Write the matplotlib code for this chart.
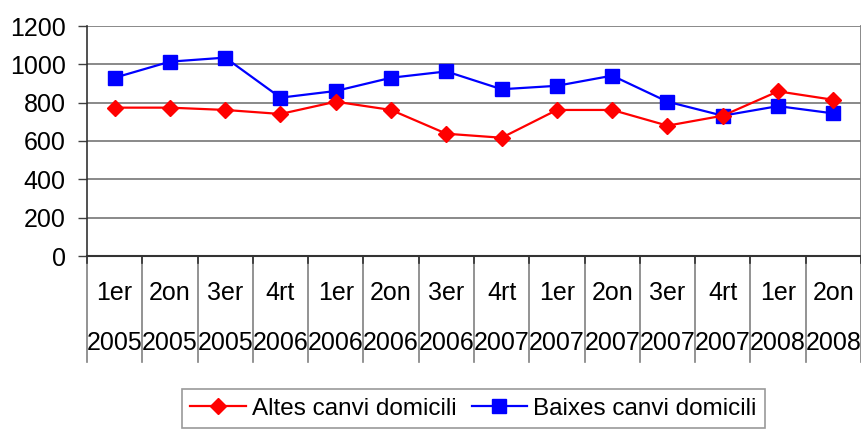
import matplotlib
matplotlib.use("Agg")
import matplotlib.pyplot as plt
import matplotlib.transforms as mtransforms
from matplotlib.lines import Line2D

quarters = ["1er", "2on", "3er", "4rt", "1er", "2on", "3er", "4rt", "1er", "2on", "3er", "4rt", "1er", "2on"]
years = ["2005", "2005", "2005", "2006", "2006", "2006", "2006", "2007", "2007", "2007", "2007", "2007", "2008", "2008"]
altes = [774, 774, 762, 741, 805, 762, 638, 617, 762, 762, 680, 732, 859, 815]
baixes = [930, 1014, 1035, 826, 861, 930, 963, 870, 888, 941, 805, 732, 782, 744]
yticks = [0, 200, 400, 600, 800, 1000, 1200]

plt.rcParams['font.family'] = ['Liberation Sans', 'DejaVu Sans']
FS = 18

fig = plt.figure(figsize=(8.62, 4.29), dpi=100)
W, H = 862, 429
ax = fig.add_axes([87 / W, 1 - 256 / H, (861 - 87) / W, (256 - 26) / H])

x = list(range(len(quarters)))
ax.plot(x, altes, color='#FF0000', lw=1.6, marker='D', ms=7.8, mec='#FF0000', mfc='#FF0000',
        label='Altes canvi domicili', zorder=4)
ax.plot(x, baixes, color='#0000FF', lw=1.6, marker='s', ms=9.6, mec='#0000FF', mfc='#0000FF',
        label='Baixes canvi domicili', zorder=3)

ax.set_xlim(-0.5, len(quarters) - 0.5)
ax.set_ylim(0, 1200)
ax.set_yticks(yticks)
ax.set_yticklabels([str(v) for v in yticks], fontsize=FS)
ax.yaxis.grid(True, color='#808080', lw=1.3)
ax.set_axisbelow(True)
ax.tick_params(axis='y', length=6.3, width=1, color='#404040', pad=9)
ax.set_xticks([])

ax.spines['top'].set_visible(False)
ax.spines['right'].set_color('#808080')
ax.spines['right'].set_linewidth(1.3)
ax.spines['left'].set_color('#333333')
ax.spines['left'].set_linewidth(1.2)
ax.spines['bottom'].set_color('#333333')
ax.spines['bottom'].set_linewidth(1.5)

trans = mtransforms.blended_transform_factory(ax.transData, ax.transAxes)
y_bot = (256 - 362) / 230
for b in range(len(quarters) + 1):
    xb = b - 0.5
    ax.add_line(Line2D([xb, xb], [0, y_bot], transform=trans, color='#808080', lw=1.2, clip_on=False))
    ax.add_line(Line2D([xb, xb], [0, -7 / 230], transform=trans, color='#333333', lw=1.2, clip_on=False))

for i, (q, yr) in enumerate(zip(quarters, years)):
    ax.text(i, (256 - 292.5) / 230, q, transform=trans, ha='center', va='center', fontsize=FS)
    ax.text(i, (256 - 343) / 230, yr, transform=trans, ha='center', va='center', fontsize=FS)

leg = fig.legend(loc='upper center', bbox_to_anchor=(473.6 / W, 1 - 389 / H), ncol=2,
                 fontsize=17.5, frameon=True, fancybox=False, edgecolor='#808080',
                 handlelength=2.3, handletextpad=0.25, columnspacing=0.6,
                 borderpad=0.35, borderaxespad=0)
leg.get_frame().set_linewidth(1.2)

fig.savefig('out.png', dpi=100, facecolor='white')
